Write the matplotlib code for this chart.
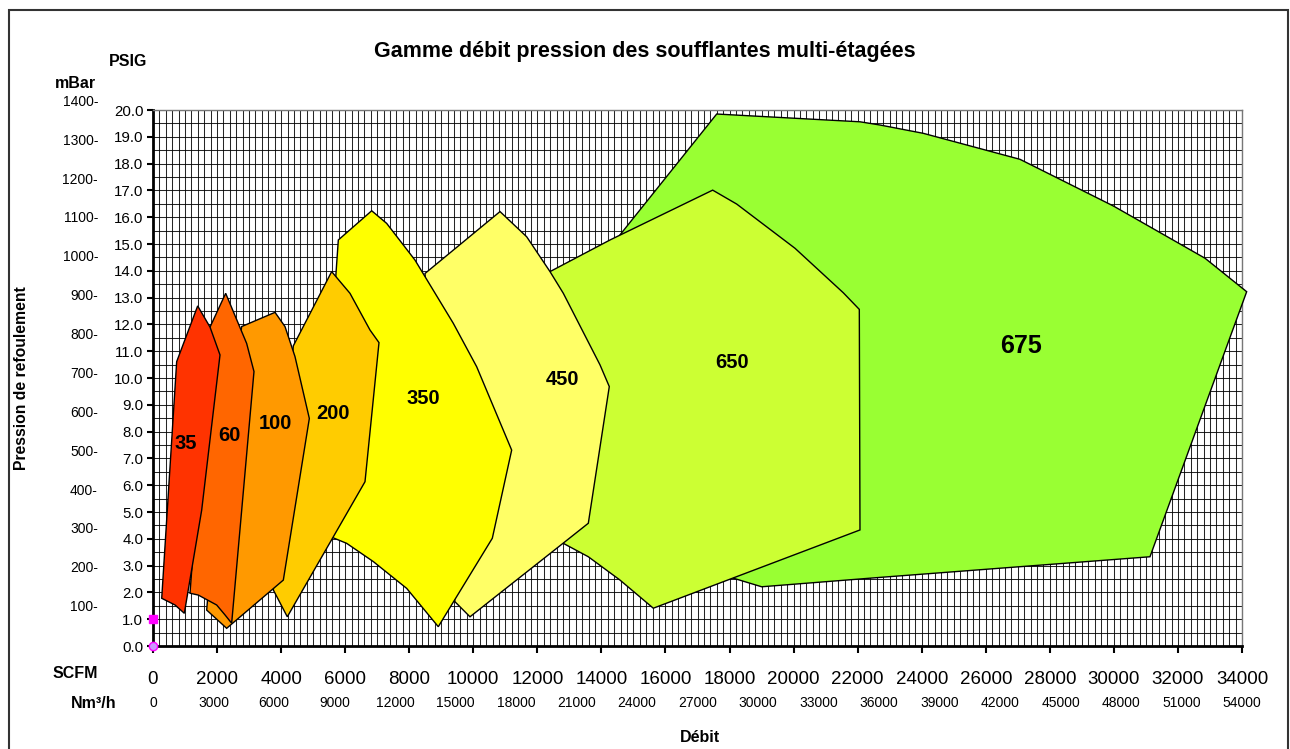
import matplotlib
matplotlib.use("Agg")
import matplotlib.pyplot as plt
import matplotlib.transforms as mtransforms
from matplotlib.patches import Rectangle
import numpy as np

plt.rcParams['font.family'] = ['Liberation Sans', 'DejaVu Sans']

# polygon outlines of each blower range (SCFM, PSIG)
x_35 = [272, 687, 978, 1520, 2092, 1780, 1395, 739]
y_35 = [1.78, 1.53, 1.22, 5.07, 10.86, 11.9, 12.69, 10.61]

x_60 = [1155, 1415, 1988, 2248, 2456, 3153, 2924, 2269, 1780]
y_60 = [1.97, 1.90, 1.53, 1.16, 0.85, 10.24, 11.29, 13.16, 11.9]

x_100 = [1676, 2300, 4069, 4881, 4433, 4121, 3809, 2769, 2000]
y_100 = [1.34, 0.66, 2.46, 8.49, 10.8, 11.92, 12.45, 11.92, 6.0]

x_200 = [3757, 4193, 6619, 7056, 6775, 6150, 5578, 4381, 4000]
y_200 = [2.09, 1.09, 6.13, 11.32, 11.79, 13.16, 13.97, 11.2, 6.0]

x_350 = [5600, 6047, 6878, 7920, 8907, 10594, 11198, 10106, 9376, 8180, 7295, 6828, 5786, 5713, 5500]
y_350 = [4.05, 3.83, 3.15, 2.15, 0.72, 4.02, 7.31, 10.42, 12.04, 14.40, 15.77, 16.24, 15.15, 13.9, 9.0]

x_450 = [9429, 9897, 12863, 13591, 14246, 13956, 12811, 12395, 11667, 10834, 8492, 9000]
y_450 = [1.65, 1.09, 3.89, 4.58, 9.68, 10.49, 13.16, 13.97, 15.27, 16.21, 13.9, 5.0]

x_650 = [12811, 13591, 14580, 15620, 22073, 22052, 21552, 20044, 18224, 17474, 14268, 12395, 12000]
y_650 = [3.83, 3.33, 2.46, 1.41, 4.33, 12.56, 13.18, 14.84, 16.49, 17.01, 15.15, 13.97, 8.0]

x_675 = [18120, 19003, 22698, 31127, 34146, 32844, 29982, 27068, 24049, 22698, 22073, 17599, 14580, 15000]
y_675 = [2.53, 2.21, 2.56, 3.33, 13.22, 14.47, 16.42, 18.16, 19.13, 19.44, 19.56, 19.85, 15.34, 8.0]

models = ["675", "650", "450", "350", "200", "100", "60", "35"]
colors = ["#99FF33", "#CCFF33", "#FFFF66", "#FFFF00", "#FFCC00", "#FF9900", "#FF6600", "#FF3300"]
shapes = [(x_675, y_675), (x_650, y_650), (x_450, y_450), (x_350, y_350),
          (x_200, y_200), (x_100, y_100), (x_60, y_60), (x_35, y_35)]
# label anchor points
label_x = [27100, 18077, 12770, 8430, 5620, 3809, 2373, 1030]
label_y = [11.19, 10.56, 9.96, 9.25, 8.69, 8.32, 7.84, 7.57]

mbar_ticks = [100, 200, 300, 400, 500, 600, 700, 800, 900, 1000, 1100, 1200, 1300, 1400]
nm3_ticks = list(range(0, 54001, 3000))
nm3_per_scfm = 54000 / 34000
psi_per_mbar = 1 / 68.95

W, H = 1290, 749
fig = plt.figure(figsize=(W / 100, H / 100), dpi=100)
ax = fig.add_axes([153 / W, 1 - 646 / H, (1242 - 153) / W, (646 - 110) / H])

ax.set_xlim(0, 34000)
ax.set_ylim(0, 20)
ax.set_xticks(np.arange(0, 34001, 2000))
ax.set_xticks(np.arange(0, 34001, 200), minor=True)
ax.set_yticks(np.arange(0, 20.01, 1))
ax.set_yticks(np.arange(0, 20.01, 0.5), minor=True)
ax.set_yticklabels(["%.1f" % v for v in np.arange(0, 20.01, 1)])
ax.grid(which="both", color="black", linewidth=0.75, alpha=0.85)
ax.set_axisbelow(True)
ax.tick_params(axis="x", which="major", length=5, width=1.5, pad=13, labelsize=13.5)
ax.tick_params(axis="y", which="major", length=4, width=1.5, pad=3, labelsize=10.8)
ax.tick_params(which="minor", length=0)
for s in ["left", "bottom"]:
    ax.spines[s].set_linewidth(2)
for s in ["top", "right"]:
    ax.spines[s].set_color("#777777")
    ax.spines[s].set_linewidth(1)

for (xs, ys), c, name, lx, ly in zip(shapes, colors, models, label_x, label_y):
    ax.fill(xs, ys, facecolor=c, edgecolor="black", linewidth=1.0, zorder=3, clip_on=False)
    size = 18 if name == "675" else 14.5
    ax.text(lx, ly, name, ha="center", va="center", fontsize=size, fontweight="bold", zorder=10)

ax.plot([0], [1.0], marker="s", color="magenta", markersize=6, clip_on=False, zorder=11)
ax.plot([0], [0.0], marker="o", markerfacecolor="#CC99FF", markeredgecolor="magenta",
        markersize=6, clip_on=False, zorder=11)

# mBar scale on the far left
trans_y = mtransforms.blended_transform_factory(fig.transFigure, ax.transData)
for m in mbar_ticks:
    ax.text(98 / W, m * psi_per_mbar, "%d-" % m, transform=trans_y, ha="right", va="center", fontsize=10)

# Nm3/h scale under the SCFM ticks
trans_x = mtransforms.blended_transform_factory(ax.transData, fig.transFigure)
for n in nm3_ticks:
    ax.text(n / nm3_per_scfm, 1 - 703 / H, str(n), transform=trans_x, ha="center", va="center", fontsize=10)

fig.text(645 / W, 1 - 52 / H, "Gamme débit pression des soufflantes multi-étagées",
         ha="center", va="center", fontsize=15.5, fontweight="bold")
fig.text(128 / W, 1 - 61 / H, "PSIG", ha="center", va="center", fontsize=11.5, fontweight="bold")
fig.text(75 / W, 1 - 83 / H, "mBar", ha="center", va="center", fontsize=11.5, fontweight="bold")
fig.text(22 / W, 1 - 378 / H, "Pression de refoulement", rotation=90,
         ha="center", va="center", fontsize=11.3, fontweight="bold")
fig.text(75 / W, 1 - 674 / H, "SCFM", ha="center", va="center", fontsize=11.5, fontweight="bold")
fig.text(94 / W, 1 - 703 / H, "Nm³/h", ha="center", va="center", fontsize=11.5, fontweight="bold")
fig.text(700 / W, 1 - 737 / H, "Débit", ha="center", va="center", fontsize=11.5, fontweight="bold")

fig.patches.append(Rectangle((9 / W, -0.02), (1288 - 9) / W, (749 - 10) / H + 0.02,
                             transform=fig.transFigure, fill=False, edgecolor="#333333", linewidth=1.5))

fig.savefig("out.png", dpi=100)
